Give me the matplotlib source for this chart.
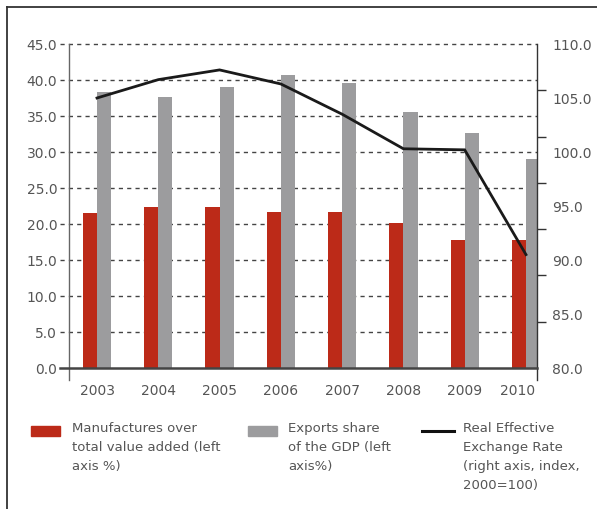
import matplotlib
matplotlib.use("Agg")
import matplotlib.pyplot as plt
import numpy as np
from matplotlib.lines import Line2D
from matplotlib.patches import Rectangle
from matplotlib.transforms import ScaledTranslation

years = ["2003", "2004", "2005", "2006", "2007", "2008", "2009", "2010"]
manufactures = [21.5, 22.4, 22.4, 21.7, 21.7, 20.2, 17.8, 17.8]
exports = [38.3, 37.6, 39.0, 40.7, 39.6, 35.6, 32.6, 29.0]
reer = [105.0, 106.7, 107.6, 106.3, 103.5, 100.3, 100.2, 90.5]

RED = "#bc2a18"
GREY = "#9c9c9e"
TXT = "#555555"
W, H = 597, 510

plt.rcParams["font.family"] = ["DejaVu Sans"]

fig = plt.figure(figsize=(W / 100, H / 100), dpi=100)
ax = fig.add_axes([69 / W, 1 - 369 / H, (537 - 69) / W, (369 - 45) / H])

x = np.arange(len(years))
bw = 0.23
ax.bar(x - bw / 2, manufactures, bw, color=RED, zorder=2)
ax.bar(x + bw / 2, exports, bw, color=GREY, zorder=2)
ax.set_xlim(-0.457, 7.18)
ax.set_ylim(0, 45)

# dashed grid, reaching a bit left of the axis like tick marks
for v in np.arange(5, 46, 5):
    ax.plot([-0.02, 1], [v / 45, v / 45], transform=ax.transAxes, color="#444444",
            lw=1.0, ls=(0, (3, 3)), zorder=1, clip_on=False)
ax.set_yticks(np.arange(0, 46, 5))
ax.set_yticklabels([f"{v:.1f}" for v in np.arange(0, 46, 5)])
ax.set_xticks(x)
ax.set_xticklabels(years)
ax.tick_params(axis="y", length=0, pad=8.5, labelsize=10, labelcolor=TXT)
ax.tick_params(axis="x", length=0, pad=11, labelsize=10, labelcolor=TXT)
# last year label sits a little left, away from the right axis
lab = ax.get_xticklabels()[-1]
lab.set_transform(lab.get_transform() + ScaledTranslation(-8 / 100, 0, fig.dpi_scale_trans))
for s in ax.spines.values():
    s.set_visible(False)

# axis lines
ax.plot([0, 0], [-0.037, 1], transform=ax.transAxes, color="#666666", lw=1.0, clip_on=False)
ax.plot([-0.02, 1], [0, 0], transform=ax.transAxes, color="#444444", lw=1.8, clip_on=False, zorder=3)
ax.plot([1, 1], [-0.037, 1], transform=ax.transAxes, color="#333333", lw=1.0, clip_on=False)

ax2 = ax.twinx()
ax2.plot(x, reer, color="#1a1a1a", lw=2.0, solid_joinstyle="miter")
ax2.set_ylim(80, 110)
ax2.set_yticks(np.arange(80, 111, 5))
ax2.set_yticklabels([f"{v:.1f}" for v in np.arange(80, 111, 5)])
ax2.set_yticks(np.linspace(80, 110, 8), minor=True)
ax2.tick_params(axis="y", which="major", length=0, pad=10.8, labelsize=10, labelcolor=TXT)
ax2.tick_params(axis="y", which="minor", length=6.5, width=1.0, color="#333333", direction="out")
for s in ax2.spines.values():
    s.set_visible(False)

# outer frame (left and top edges)
fig.add_artist(Line2D([7 / W, 7 / W], [0, 1 - 8 / H], color="#333333", lw=1.3))
fig.add_artist(Line2D([7 / W, 1], [1 - 8 / H, 1 - 8 / H], color="#333333", lw=1.3))

# legend
def fy(py):
    return 1 - py / H

fig.add_artist(Rectangle((31 / W, fy(437)), 29 / W, 10 / H, color=RED, transform=fig.transFigure))
fig.add_artist(Rectangle((248 / W, fy(437)), 29 / W, 10 / H, color=GREY, transform=fig.transFigure))
fig.add_artist(Line2D([422 / W, 454 / W], [fy(432), fy(432)], color="#111111", lw=2.2))
leg_kw = dict(va="top", ha="left", fontsize=9.5, color=TXT, linespacing=1.6)
fig.text(72 / W, fy(422), "Manufactures over\ntotal value added (left\naxis %)", **leg_kw)
fig.text(288 / W, fy(422), "Exports share\nof the GDP (left\naxis%)", **leg_kw)
fig.text(463 / W, fy(422), "Real Effective\nExchange Rate\n(right axis, index,\n2000=100)", **leg_kw)

fig.savefig("out.png", dpi=100)
